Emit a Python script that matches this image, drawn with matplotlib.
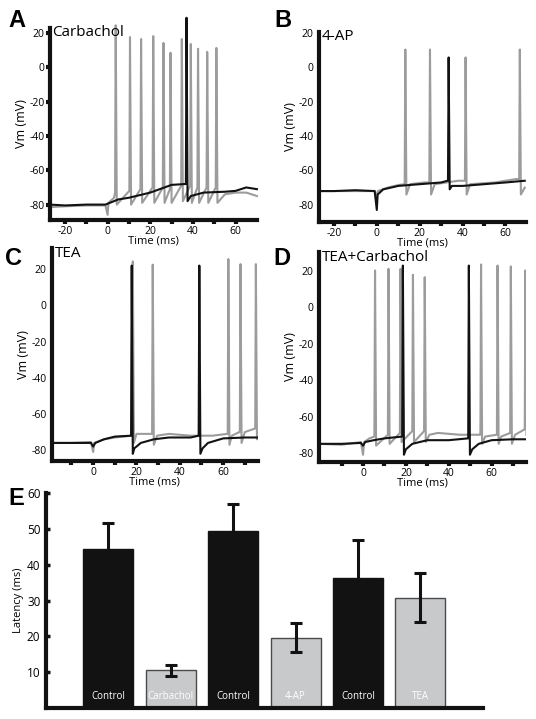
import matplotlib
matplotlib.use("Agg")
import matplotlib.pyplot as plt
import numpy as np

plt.rcParams['font.family'] = ['Open Sans', 'DejaVu Sans']

# ---- traces: baseline knots (t, mV) and spikes (t, pre, peak, trough) ----
A_black_base = [(-27, -80), (-20, -80.5), (-10, -80), (-1, -80), (0, -79.5), (5, -77),
                (10, -76), (20, -73), (30, -68.5), (36.5, -68),
                (39, -75), (45, -73), (55, -72.5), (60, -72), (65, -70), (70, -71)]
A_black_spikes = [(37, -68, 29, -78)]
A_gray_base = [(-27, -81.5), (-20, -81), (-10, -80.5), (-1, -80.5), (0, -86), (0.4, -79),
               (3, -76), (55, -74), (60, -73), (65, -73), (70, -75)]
A_gray_spikes = [(3.8, -73, 24.6, -80), (10.5, -72, 17.7, -80), (15.7, -71, 16.6, -79),
                 (21.4, -70, 18.3, -79), (26.2, -70, 14.3, -79), (29.5, -71, 8.6, -79),
                 (34.8, -69, 16.6, -78), (39, -69, 13.7, -79), (42.4, -70, 10.9, -79),
                 (46.7, -70, 9.1, -79), (51, -70, 11.4, -79)]

B_black_base = [(-27, -72), (-20, -72), (-10, -71.5), (-1, -72), (0, -83), (0.4, -74),
                (3, -71), (10, -69), (20, -68), (30, -67), (33, -66),
                (35, -69), (40, -69), (50, -68), (60, -67), (69, -66)]
B_black_spikes = [(33.5, -66, 5.7, -71)]
B_gray_base = [(-27, -72), (-10, -72), (-1, -72), (0, -75), (0.5, -72), (5, -70), (10, -68.5),
               (15.5, -68), (22, -67), (27, -68), (38, -66), (43.5, -68), (55, -67),
               (65, -65), (69, -70)]
B_gray_spikes = [(13.3, -68, 10.3, -74), (24.8, -67, 10.3, -74), (41.4, -66, 5.7, -74),
                 (66.7, -65, 10.3, -74)]

C_black_base = [(-19, -76), (-10, -76), (-1, -76), (0, -78), (1, -76), (5, -74), (10, -72.5),
                (17.5, -72), (19, -79), (22, -76), (28, -74), (35, -73), (45, -73),
                (48.7, -72), (50.5, -79), (53, -76), (60, -73.5), (70, -73), (76, -73)]
C_black_spikes = [(17.8, -72, 22, -82), (49, -72, 22, -82)]
C_gray_base = [(-19, -76), (-10, -76), (-1, -75.5), (0, -81), (0.5, -76), (5, -74), (10, -73),
               (18, -72), (20, -71), (27, -71), (29.5, -72), (35, -71), (45, -72), (55, -72),
               (62, -71), (64, -72), (67.5, -70), (70, -70), (74.8, -68), (76, -72)]
C_gray_spikes = [(18.3, -72, 24.3, -76), (27.5, -71, 22.5, -77), (62.4, -71, 25.6, -77),
                 (68, -70, 22.8, -76), (75.1, -68, 22.8, -74)]

D_black_base = [(-20.6, -75), (-10, -75), (-1, -74.5), (0, -76), (1, -74), (5, -73), (10, -72),
                (18.3, -71), (20, -78), (23, -75), (30, -73), (40, -73), (49, -72),
                (51, -78), (54, -75), (60, -73), (70, -72.5), (76, -72.5)]
D_black_spikes = [(18.6, -71, 23, -81), (49.4, -72, 23, -81)]
D_gray_base = [(-20.6, -75), (-10, -75.5), (-1, -74), (0, -81), (0.5, -74), (3, -72),
               (5.3, -71), (31, -70), (35, -69), (45, -70), (54.8, -70), (57, -71),
               (62.5, -70), (64.5, -71), (68.7, -69), (71, -70), (75.5, -67)]
D_gray_spikes = [(5.6, -71, 20.3, -76), (11.9, -70, 21.2, -75), (17.5, -69, 21.2, -74),
                 (23.3, -68, 17.9, -74), (28.8, -68, 16.6, -74), (55.1, -70, 23.6, -75),
                 (62.8, -70, 23, -75), (69, -69, 22.5, -75), (75.8, -67, 20.3, -70)]

# ---- bar chart data ----
bar_labels = ['Control', 'Carbachol', 'Control', '4-AP', 'Control', 'TEA']
latency = [44.5, 10.5, 49.3, 19.6, 36.4, 30.8]
latency_err = [7.2, 1.6, 7.5, 4.1, 10.4, 6.9]

BLACK = '#121212'
GRAY = '#9c9c9c'


def trace(base, spikes):
    pts = list(base)
    for t, pre, peak, trough in spikes:
        pts += [(t - 0.3, pre), (t, peak), (t + 0.5, trough)]
    pts.sort()
    t, v = zip(*pts)
    return t, v


fig = plt.figure(figsize=(5.36, 7.19), dpi=100)


def trace_panel(rect, xlim, ylim, xticks, label, gray, black, yticks_marks, clip=True):
    ax = fig.add_axes(rect)
    t, v = trace(*gray)
    ax.plot(t, v, color=GRAY, lw=1.5, clip_on=clip, zorder=2)
    t, v = trace(*black)
    ax.plot(t, v, color=BLACK, lw=1.5, clip_on=clip, zorder=3)
    ax.set_xlim(xlim)
    ax.set_ylim(ylim)
    for s in ['top', 'right']:
        ax.spines[s].set_visible(False)
    for s in ['left', 'bottom']:
        ax.spines[s].set_linewidth(3)
        ax.spines[s].set_color(BLACK)
    ax.set_xticks(xticks)
    ax.set_xticklabels([str(x) if x % 20 == 0 else '' for x in xticks], fontsize=7.5)
    ax.set_yticks([-80, -60, -40, -20, 0, 20])
    ax.set_yticklabels(['-80', '-60', '-40', '-20', '0', '20'], fontsize=7.5)
    ax.tick_params(axis='x', direction='out', length=3, width=3, pad=1, color=BLACK)
    ax.tick_params(axis='y', direction='out', length=3 if yticks_marks else 0,
                   width=3, pad=1 if yticks_marks else 4, color=BLACK)
    ax.set_xlabel('Time (ms)', fontsize=8, labelpad=-1)
    ax.set_ylabel('Vm (mV)', fontsize=9, labelpad=1)
    ax.text(0.012, 0.975, label, transform=ax.transAxes, fontsize=11,
            va='center', ha='left')
    return ax


trace_panel([0.0933, 0.694, 0.386, 0.267], (-27, 70), (-89, 23), np.arange(-20, 70, 10),
            'Carbachol', (A_gray_base, A_gray_spikes), (A_black_base, A_black_spikes),
            True, clip=False)
trace_panel([0.595, 0.6912, 0.386, 0.2643], (-27, 69.5), (-90, 20.5), np.arange(-20, 70, 10),
            '4-AP', (B_gray_base, B_gray_spikes), (B_black_base, B_black_spikes), False)
trace_panel([0.097, 0.3588, 0.384, 0.296], (-19, 76), (-86, 31.6), np.arange(-10, 80, 10),
            'TEA', (C_gray_base, C_gray_spikes), (C_black_base, C_black_spikes), False)
trace_panel([0.595, 0.3574, 0.386, 0.292], (-20.6, 76), (-85, 30.4), np.arange(-10, 80, 10),
            'TEA+Carbachol', (D_gray_base, D_gray_spikes), (D_black_base, D_black_spikes), False)

# ---- panel E ----
axE = fig.add_axes([0.0858, 0.0153, 0.815, 0.299])
x = np.arange(len(latency))
colors = [BLACK if i % 2 == 0 else '#c8c9cb' for i in x]
edges = [BLACK if i % 2 == 0 else '#4a4a4a' for i in x]
axE.bar(x, latency, width=0.8, color=colors, edgecolor=edges, linewidth=1, zorder=2)
axE.errorbar(x, latency, yerr=latency_err, fmt='none', ecolor=BLACK, elinewidth=2.2,
             capsize=4, capthick=2.2, zorder=3)
for xi, lab in zip(x, bar_labels):
    axE.text(xi, 3.1, lab, color='white', fontsize=7, ha='center', va='center', zorder=4)
axE.set_xlim(-1.0, 6.0)
axE.set_ylim(0, 60)
axE.set_xticks([])
axE.set_yticks([10, 20, 30, 40, 50, 60])
axE.set_yticklabels(['10', '20', '30', '40', '50', '60'], fontsize=8.5)
axE.tick_params(axis='y', direction='in', length=3, width=2.5, pad=4, color=BLACK)
for s in ['top', 'right']:
    axE.spines[s].set_visible(False)
for s in ['left', 'bottom']:
    axE.spines[s].set_linewidth(3)
    axE.spines[s].set_color(BLACK)
axE.set_ylabel('Latency (ms)', fontsize=8, labelpad=2)

# ---- panel letters ----
for lab, px, py in [('A', 8, 27), ('B', 274, 27), ('C', 5, 265), ('D', 273, 265), ('E', 8, 505)]:
    fig.text(px / 536, 1 - py / 719, lab, fontsize=17, fontweight='bold',
             family='Liberation Sans', va='baseline', ha='left')

fig.savefig('out.png', dpi=100)
